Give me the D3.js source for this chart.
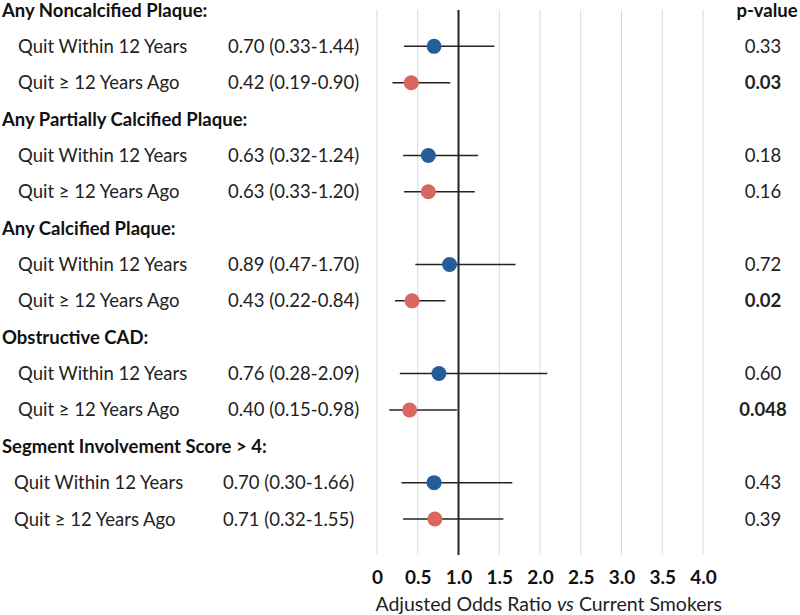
<!DOCTYPE html>
<html><head><meta charset="utf-8">
<script src="https://cdn.jsdelivr.net/npm/d3@7/dist/d3.min.js"></script>
<style>body{margin:0;background:#fff;} text{font-family:Lato,"Open Sans",sans-serif;}</style>
</head><body><svg id="c" width="800" height="615"></svg>
<script>
const groups = ["Any Noncalcified Plaque:", "Any Partially Calcified Plaque:", "Any Calcified Plaque:", "Obstructive CAD:", "Segment Involvement Score > 4:"];
const subgroups = ["Quit Within 12 Years", "Quit \u2265 12 Years Ago"];
const orWithin = [0.70, 0.63, 0.89, 0.76, 0.70];
const loWithin = [0.33, 0.32, 0.47, 0.28, 0.30];
const hiWithin = [1.44, 1.24, 1.70, 2.09, 1.66];
const orAgo = [0.42, 0.63, 0.43, 0.40, 0.71];
const loAgo = [0.19, 0.33, 0.22, 0.15, 0.32];
const hiAgo = [0.90, 1.20, 0.84, 0.98, 1.55];
const pWithin = ["0.33", "0.18", "0.72", "0.60", "0.43"];
const pAgo = ["0.03", "0.16", "0.02", "0.048", "0.39"];
const tickValues = [0, 0.5, 1.0, 1.5, 2.0, 2.5, 3.0, 3.5, 4.0];
const tickLabels = ["0", "0.5", "1.0", "1.5", "2.0", "2.5", "3.0", "3.5", "4.0"];
const colors = ["#255d99", "#d9675f"];

const svg = d3.select("#c");
const x = d3.scaleLinear().domain([0, 4]).range([377, 703]);
const y = d3.scaleLinear().domain([0, 14]).range([10, 519]);
const FS = 18.5;

const rows = [];
groups.forEach((g, gi) => {
  const ors = [orWithin[gi], orAgo[gi]], los = [loWithin[gi], loAgo[gi]], his = [hiWithin[gi], hiAgo[gi]], ps = [pWithin[gi], pAgo[gi]];
  subgroups.forEach((s, si) => {
    rows.push({g: gi, s: si, row: gi * 3 + 1 + si, or: ors[si], lo: los[si], hi: his[si], p: ps[si]});
  });
});

// gridlines
svg.append("g").selectAll("line").data(tickValues.filter(v => v !== 1)).join("line")
  .attr("x1", d => x(d)).attr("x2", d => x(d)).attr("y1", 10).attr("y2", 555)
  .attr("stroke", "#d9d9d9").attr("stroke-width", 1);
// reference line
svg.append("line").attr("x1", x(1)).attr("x2", x(1)).attr("y1", 10).attr("y2", 555)
  .attr("stroke", "#222").attr("stroke-width", 2);

// axis
const axis = d3.axisBottom(x).tickValues(tickValues).tickFormat((d, i) => tickLabels[i]).tickSize(0).tickPadding(0);
const ax = svg.append("g").attr("transform", "translate(0,570)").call(axis);
ax.select(".domain").remove();
ax.selectAll("text").attr("font-size", 19).attr("font-weight", "bold").attr("fill", "#111")
  .style("font-family", "Lato, sans-serif");

const title = svg.append("text").attr("x", x(2.107)).attr("y", 611).attr("text-anchor", "middle")
  .attr("font-size", 19.5).attr("fill", "#222");
title.append("tspan").text("Adjusted Odds Ratio ");
title.append("tspan").attr("font-style", "italic").text("vs");
title.append("tspan").text(" Current Smokers");

// group headers
svg.append("g").selectAll("text").data(groups).join("text")
  .attr("x", 2).attr("y", (d, i) => y(i * 3) + 6.5).attr("font-size", FS).attr("font-weight", "bold").attr("fill", "#111")
  .text(d => d);

// row labels
svg.append("g").selectAll("text").data(rows).join("text")
  .attr("x", d => d.g === 4 ? 14 : 18).attr("y", d => y(d.row) + 6.5).attr("font-size", FS).attr("fill", "#222")
  .text(d => subgroups[d.s]);
svg.append("g").selectAll("text").data(rows).join("text")
  .attr("x", d => d.g === 4 ? 223 : 228).attr("y", d => y(d.row) + 6.5).attr("font-size", FS).attr("fill", "#222")
  .text(d => `${d.or.toFixed(2)} (${d.lo.toFixed(2)}-${d.hi.toFixed(2)})`);

// p-values
svg.append("text").attr("x", 767).attr("y", 16.5).attr("text-anchor", "middle").attr("font-size", FS)
  .attr("font-weight", "bold").attr("fill", "#111").text("p-value");
svg.append("g").selectAll("text").data(rows).join("text")
  .attr("x", 763).attr("y", d => y(d.row) + 6.5).attr("text-anchor", "middle").attr("font-size", FS)
  .attr("font-weight", d => parseFloat(d.p) < 0.05 ? "bold" : "normal").attr("fill", "#222")
  .text(d => d.p);

// CIs
svg.append("g").selectAll("line").data(rows).join("line")
  .attr("x1", d => x(d.lo)).attr("x2", d => x(d.hi)).attr("y1", d => y(d.row)).attr("y2", d => y(d.row))
  .attr("stroke", "#222").attr("stroke-width", 1.5);
// points
svg.append("g").selectAll("circle").data(rows).join("circle")
  .attr("cx", d => x(d.or)).attr("cy", d => y(d.row)).attr("r", 7.5)
  .attr("fill", d => colors[d.s]);
</script></body></html>
